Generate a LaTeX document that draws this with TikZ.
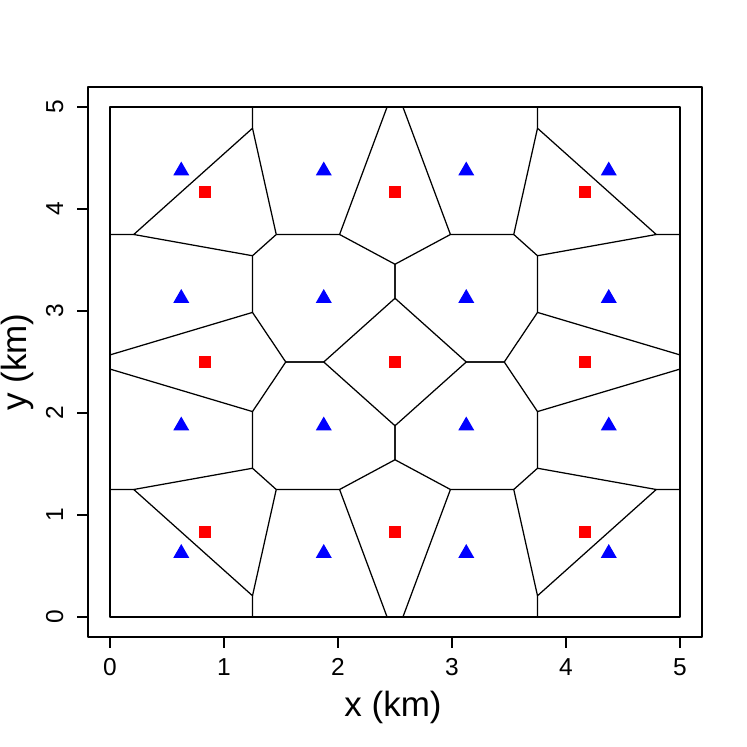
\documentclass[tikz,border=0pt]{standalone}
\usepackage{fontspec}
\setmainfont{Liberation Sans}
\begin{document}
\begin{tikzpicture}[x=1pt,y=1pt,line join=round]
\tikzset{
  vor/.style={line width=1.25pt,black},
  frame/.style={line width=1.25pt,black},
  tickmark/.style={line width=1.2pt,black},
  ticklab/.style={font=\fontsize{24.5}{30}\selectfont,inner sep=0pt},
  axlab/.style={font=\fontsize{35}{40}\selectfont,inner sep=0pt},
  tri/.style={fill=blue},
  sq/.style={fill=red}
}
\useasboundingbox (0,0) rectangle (747,747);
\fill[white] (0,0) rectangle (747,747);
% outer frame
\draw[frame] (88,110) rectangle (702,660);
% x axis
\foreach \k in {0,...,5} {
  \draw[tickmark] ({110+114*\k},110) -- ({110+114*\k},99);
  \node[ticklab,anchor=base] (xl\k) at ({110+114*\k},71) {\k};
}
% y axis
\foreach \k in {0,...,5} {
  \draw[tickmark] (88,{130+102*\k}) -- (77,{130+102*\k});
  \node[ticklab,anchor=base,rotate=90] (yl\k) at (63,{130+102*\k}) {\k};
}
\node[axlab,anchor=base] (xlab) at (393,30) {x (km)};
\node[axlab,anchor=base,rotate=90] (ylab) at (27,385) {y (km)};
% data region, origin at centre (2.5,2.5)
\begin{scope}[xshift=395pt,yshift=385pt,x=114pt,y=102pt]
  \draw[frame] (-2.5,-2.5) rectangle (2.5,2.5);
  \foreach \sx/\sy in {1/1,-1/1,1/-1,-1/-1} {
    \begin{scope}[xscale=\sx,yscale=\sy]
      \coordinate (A) at (-2.29167,-1.25);
      \coordinate (B) at (-1.25,-2.29167);
      \coordinate (C) at (-1.25,-1.04167);
      \coordinate (D) at (-1.04167,-1.25);
      \coordinate (E) at (-1.25,-0.48611);
      \coordinate (F) at (-0.48611,-1.25);
      \coordinate (G) at (0,-0.95833);
      \coordinate (H) at (-0.95833,0);
      \coordinate (I) at (0,-0.625);
      \coordinate (J) at (-0.625,0);
      \coordinate (L) at (-2.5,-1.25);
      \coordinate (M) at (-1.25,-2.5);
      \coordinate (N) at (-2.5,-0.06944);
      \coordinate (P) at (-0.06944,-2.5);
      \draw[vor] (L) -- (A) -- (B) -- (M);
      \draw[vor] (A) -- (C) -- (D) -- (B);
      \draw[vor] (C) -- (E) -- (N);
      \draw[vor] (D) -- (F) -- (P);
      \draw[vor] (F) -- (G) -- (I) -- (J) -- (H) -- (E);
    \end{scope}
  }
  % triangles
  \foreach \x in {-1.875,-0.625,0.625,1.875} {
    \foreach \y in {-1.875,-0.625,0.625,1.875} {
      \fill[tri] (\x,\y) ++(0pt,9.24pt) -- ++(8pt,-13.86pt) -- ++(-16pt,0pt) -- cycle;
    }
  }
  % squares
  \foreach \x in {-1.66667,0,1.66667} {
    \foreach \y in {-1.66667,0,1.66667} {
      \fill[sq] (\x,\y) ++(-5.9pt,-5.9pt) rectangle ++(11.8pt,11.8pt);
    }
  }
\end{scope}
\end{tikzpicture}
\end{document}
